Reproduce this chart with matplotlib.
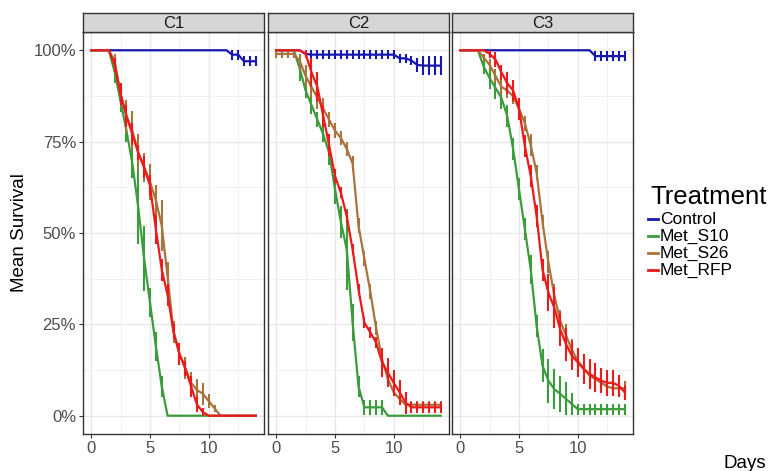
import matplotlib.pyplot as plt
from matplotlib.lines import Line2D

# time points (days), one sample every half day
days = [0, 0.5, 1, 1.5, 2, 2.5, 3, 3.5, 4, 4.5, 5, 5.5, 6, 6.5, 7,
        7.5, 8, 8.5, 9, 9.5, 10, 10.5, 11, 11.5, 12, 12.5, 13, 13.5, 14]

panels = ['C1', 'C2', 'C3']
treatments = ['Control', 'Met_S10', 'Met_S26', 'Met_RFP']
colors = ['#1616b0', '#3c9c3c', '#a8743e', '#ec1a1a']
x_ticks = [0, 5, 10]
y_ticks = [0, 0.25, 0.5, 0.75, 1.0]
y_tick_labels = ['0%', '25%', '50%', '75%', '100%']

# ---- C1 ----
c1_control = [1] * 24 + [0.988, 0.988, 0.97, 0.97, 0.97]
c1_control_se = [0] * 24 + [0.014, 0.014, 0.014, 0.014, 0.014]
c1_s10 = [1, 1, 1, 1, 0.94, 0.86, 0.78, 0.69, 0.57, 0.43, 0.31, 0.19, 0.08, 0] + [0] * 15
c1_s10_se = [0, 0, 0, 0, 0.03, 0.03, 0.03, 0.04, 0.10, 0.09, 0.04, 0.04, 0.03, 0] + [0] * 15
c1_s26 = [1, 1, 1, 1, 0.97, 0.88, 0.82, 0.78, 0.72, 0.68, 0.64, 0.59, 0.52, 0.38, 0.23,
          0.17, 0.13, 0.09, 0.07, 0.06, 0.04, 0.02] + [0] * 7
c1_s26_se = [0, 0, 0, 0, 0.02, 0.03, 0.045, 0.055, 0.05, 0.04, 0.05, 0.04, 0.07, 0.04, 0.03,
             0.03, 0.03, 0.03, 0.03, 0.03, 0.02, 0.01] + [0] * 7
c1_rfp = [1, 1, 1, 1, 0.96, 0.88, 0.82, 0.77, 0.72, 0.68, 0.63, 0.51, 0.40, 0.33, 0.23,
          0.17, 0.13, 0.08, 0.03, 0.01] + [0] * 9
c1_rfp_se = [0, 0, 0, 0, 0.02, 0.03, 0.03, 0.03, 0.02, 0.03, 0.03, 0.04, 0.03, 0.03, 0.02,
             0.03, 0.02, 0.03, 0.02, 0.01] + [0] * 9

# ---- C2 ----
c2_control = [1, 1, 1, 1, 1, 0.99] + [0.988] * 15 + [0.978, 0.978, 0.972, 0.96, 0.958, 0.958, 0.958, 0.958]
c2_control_se = [0, 0, 0, 0, 0, 0.008] + [0.012] * 15 + [0.012, 0.012, 0.012, 0.02, 0.025, 0.025, 0.025, 0.025]
c2_s10 = [1, 1, 1, 1, 0.95, 0.89, 0.85, 0.81, 0.77, 0.72, 0.62, 0.53, 0.455, 0.255, 0.08,
          0.023, 0.023, 0.023, 0.023] + [0] * 10
c2_s10_se = [0, 0, 0, 0, 0.035, 0.02, 0.025, 0.02, 0.02, 0.035, 0.04, 0.045, 0.11, 0.05, 0.03,
             0.02, 0.02, 0.02, 0.02] + [0] * 10
c2_s26 = [0.99, 0.99, 0.99, 0.99, 0.97, 0.93, 0.90, 0.87, 0.84, 0.81, 0.78, 0.76, 0.73, 0.69,
          0.52, 0.43, 0.34, 0.24, 0.155, 0.10, 0.064, 0.046] + [0.03] * 7
c2_s26_se = [0.012, 0.012, 0.012, 0.012, 0.02, 0.03, 0.03, 0.03, 0.03, 0.02, 0.02, 0.02, 0.02, 0.02,
             0.02, 0.02, 0.02, 0.02, 0.02, 0.02, 0.01, 0.01] + [0.01] * 7
c2_rfp = [1, 1, 1, 1, 1, 0.99, 0.94, 0.90, 0.82, 0.74, 0.656, 0.61, 0.546, 0.455, 0.346,
          0.255, 0.228, 0.20, 0.146, 0.118, 0.09, 0.064, 0.036] + [0.023] * 6
c2_rfp_se = [0, 0, 0, 0, 0, 0.01, 0.04, 0.04, 0.03, 0.03, 0.02, 0.015, 0.015, 0.015, 0.015,
             0.015, 0.015, 0.015, 0.04, 0.04, 0.035, 0.035, 0.03] + [0.015] * 6

# ---- C3 ----
c3_control = [1] * 23 + [0.984] * 6
c3_control_se = [0] * 23 + [0.014] * 6
c3_s10 = [1, 1, 1, 1, 0.955, 0.924, 0.897, 0.87, 0.82, 0.73, 0.62, 0.51, 0.40, 0.246, 0.137,
          0.096, 0.073, 0.06, 0.046, 0.032] + [0.018] * 9
c3_s10_se = [0, 0, 0, 0, 0.02, 0.03, 0.03, 0.03, 0.03, 0.03, 0.03, 0.03, 0.04, 0.03, 0.045,
             0.06, 0.055, 0.05, 0.045, 0.03] + [0.015] * 9
c3_s26 = [1, 1, 1, 1, 0.98, 0.96, 0.93, 0.90, 0.89, 0.874, 0.84, 0.80, 0.74, 0.665, 0.53,
          0.42, 0.33, 0.26, 0.22, 0.18, 0.15, 0.13, 0.11, 0.10, 0.09, 0.08, 0.075, 0.075, 0.075]
c3_s26_se = [0, 0, 0, 0, 0.01, 0.015, 0.02, 0.02, 0.02, 0.02, 0.02, 0.02, 0.03, 0.02, 0.02,
             0.03, 0.03, 0.03, 0.03, 0.03, 0.03, 0.04, 0.03, 0.03, 0.02, 0.02, 0.02, 0.02, 0.02]
c3_rfp = [1, 1, 1, 1, 1, 0.99, 0.975, 0.94, 0.91, 0.89, 0.84, 0.738, 0.656, 0.546, 0.40,
          0.337, 0.296, 0.237, 0.196, 0.164, 0.146, 0.128, 0.114, 0.105, 0.096, 0.09, 0.09, 0.082, 0.064]
c3_rfp_se = [0, 0, 0, 0, 0, 0.01, 0.02, 0.02, 0.03, 0.03, 0.03, 0.03, 0.03, 0.03, 0.03,
             0.05, 0.055, 0.045, 0.045, 0.04, 0.04, 0.04, 0.04, 0.04, 0.035, 0.035, 0.035, 0.03, 0.02]

means = [[c1_control, c1_s10, c1_s26, c1_rfp],
         [c2_control, c2_s10, c2_s26, c2_rfp],
         [c3_control, c3_s10, c3_s26, c3_rfp]]
ses = [[c1_control_se, c1_s10_se, c1_s26_se, c1_rfp_se],
       [c2_control_se, c2_s10_se, c2_s26_se, c2_rfp_se],
       [c3_control_se, c3_s10_se, c3_s26_se, c3_rfp_se]]

plt.rcParams['font.family'] = ['Liberation Sans', 'DejaVu Sans']

W, H = 769, 471
fig = plt.figure(figsize=(W / 100, H / 100), dpi=100)

lefts = [83, 268, 452]
pw = 181
ptop, pbot = 32, 434
strip_top = 13
border = '#333333'

for k, name in enumerate(panels):
    ax = fig.add_axes([lefts[k] / W, (H - pbot) / H, pw / W, (pbot - ptop) / H])
    ax.set_facecolor('white')
    for t in range(len(treatments)):
        ax.plot(days, means[k][t], color=colors[t], lw=1.6, zorder=3 + t)
        ax.errorbar(days, means[k][t], yerr=ses[k][t], fmt='none', ecolor=colors[t],
                    elinewidth=1.5, capsize=0, zorder=3 + t)
    ax.set_xlim(-0.7, 14.7)
    ax.set_ylim(-0.05, 1.05)
    ax.set_xticks(x_ticks)
    ax.set_xticks([2.5, 7.5, 12.5], minor=True)
    ax.set_yticks(y_ticks)
    ax.set_yticks([0.125, 0.375, 0.625, 0.875], minor=True)
    ax.grid(which='major', color='#e8e8e8', lw=1.0)
    ax.grid(which='minor', color='#f1f1f1', lw=0.7)
    ax.set_axisbelow(True)
    for s in ax.spines.values():
        s.set_color(border)
        s.set_linewidth(1.0)
    ax.tick_params(which='minor', length=0)
    ax.tick_params(axis='x', length=3, color=border, labelsize=12, labelcolor='#4d4d4d', pad=2)
    if k == 0:
        ax.set_yticklabels(y_tick_labels)
        ax.tick_params(axis='y', length=3, color=border, labelsize=12, labelcolor='#4d4d4d', pad=2)
    else:
        ax.set_yticklabels([])
        ax.tick_params(axis='y', length=0)

    # facet strip
    sax = fig.add_axes([lefts[k] / W, (H - ptop) / H, pw / W, (ptop - strip_top) / H])
    sax.set_facecolor('#d6d6d6')
    sax.set_xticks([])
    sax.set_yticks([])
    for s in sax.spines.values():
        s.set_color(border)
        s.set_linewidth(1.0)
    sax.text(0.5, 0.45, name, ha='center', va='center', fontsize=12,
             color='#1a1a1a', transform=sax.transAxes)

fig.text(20 / W, 1 - 233 / H, 'Mean Survival', rotation=90, ha='center', va='center', fontsize=13.5)
fig.text(766 / W, 1 - 463 / H, 'Days', ha='right', va='center', fontsize=13.5)

# legend
fig.text(650 / W, 1 - 197 / H, 'Treatment', ha='left', va='center', fontsize=18.5)
for i, t in enumerate(treatments):
    yf = 1 - (219 + 17 * i) / H
    fig.add_artist(Line2D([648 / W, 658 / W], [yf, yf], color=colors[i], lw=2,
                          transform=fig.transFigure))
    fig.text(660 / W, yf, t, ha='left', va='center', fontsize=12.5)

fig.savefig('out.png', dpi=100)
